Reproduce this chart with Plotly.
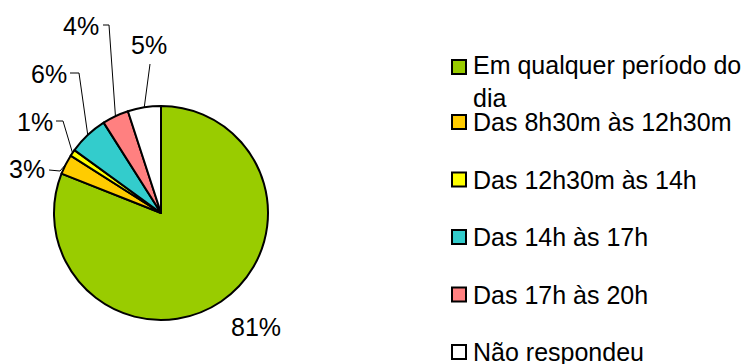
import math
import plotly.graph_objects as go

# Preferred time of day for contact (share of answers, %)
categories = [
    "Em qualquer período do dia",
    "Das 8h30m às 12h30m",
    "Das 12h30m às 14h",
    "Das 14h às 17h",
    "Das 17h às 20h",
    "Não respondeu",
]
legend_text = [
    "Em qualquer período do<br>dia",
    "Das 8h30m às 12h30m",
    "Das 12h30m às 14h",
    "Das 14h às 17h",
    "Das 17h às 20h",
    "Não respondeu",
]
values = [81, 3, 1, 6, 4, 5]
colors = ["#99CC00", "#FFCC00", "#FFFF00", "#33CCCC", "#FF8080", "#FFFFFF"]

W, H = 750, 364
FONT = "Liberation Sans, Arial, sans-serif"
FS = 25

# pie placement in pixels
CX, CY, R = 161, 213, 107


def px(x):
    return x / W


def py(y):
    return 1 - y / H


fig = go.Figure(
    go.Pie(
        labels=categories,
        values=values,
        sort=False,
        direction="clockwise",
        rotation=0,
        marker=dict(colors=colors, line=dict(color="black", width=2)),
        textinfo="none",
        hoverinfo="label+percent",
        showlegend=False,
        domain=dict(x=[px(CX - R), px(CX + R)], y=[py(CY + R), py(CY - R)]),
    )
)

# percentage labels with leader lines to the middle of each slice
label_centers = [(256, 327), (27, 169), (35, 122), (49, 74), (81, 26), (149, 45)]
leader_start = [None, (49, 170), (56, 121), (70, 73), (103, 25), (150, 64)]
leader_elbow = [None, (60, 171), (63, 121), (79, 73), (109, 25), (150, 64)]

total = sum(values)
cum = 0
shapes = []
annotations = []
for i, v in enumerate(values):
    mid = (cum + v / 2) / total * 2 * math.pi
    cum += v
    ex = CX + R * math.sin(mid)
    ey = CY - R * math.cos(mid)
    pct = round(v / total * 100)
    lx, ly = label_centers[i]
    annotations.append(dict(
        x=px(lx), y=py(ly), xref="paper", yref="paper",
        text=f"{pct}%", showarrow=False,
        xanchor="center", yanchor="middle",
        font=dict(family=FONT, size=FS, color="black"),
    ))
    if leader_start[i] is not None:
        sx, sy = leader_start[i]
        bx, by = leader_elbow[i]
        path = (f"M {px(sx)} {py(sy)} L {px(bx)} {py(by)} "
                f"L {px(ex)} {py(ey)}")
        shapes.append(dict(type="path", xref="paper", yref="paper",
                           path=path, line=dict(color="black", width=1)))

# legend: coloured squares with labels
legend_y = [67, 122, 179.5, 237, 294.5, 352]
for i, (txt, col) in enumerate(zip(legend_text, colors)):
    cy = legend_y[i]
    shapes.append(dict(
        type="rect", xref="paper", yref="paper",
        x0=px(452), x1=px(466), y0=py(cy + 7), y1=py(cy - 7),
        fillcolor=col, line=dict(color="black", width=2),
    ))
    ty = cy + 14 if i == 0 else cy
    annotations.append(dict(
        x=px(471), y=py(ty), xref="paper", yref="paper",
        text=txt, showarrow=False, align="left",
        xanchor="left", yanchor="middle",
        font=dict(family=FONT, size=FS, color="black"),
    ))

fig.update_layout(
    width=W, height=H,
    margin=dict(l=0, r=0, t=0, b=0),
    paper_bgcolor="white", plot_bgcolor="white",
    shapes=shapes, annotations=annotations,
)

fig.write_html("out.html")
